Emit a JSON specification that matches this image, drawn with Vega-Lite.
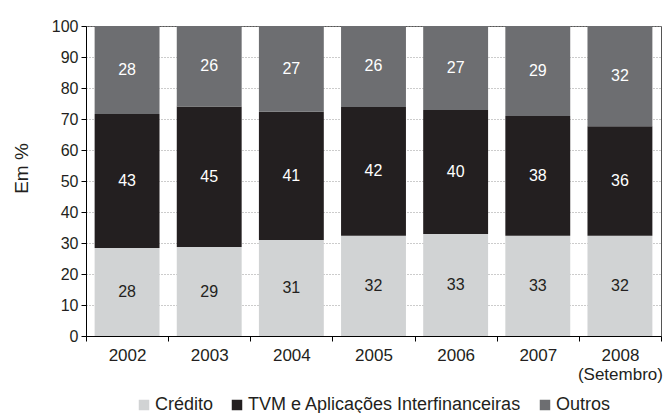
{
  "$schema": "https://vega.github.io/schema/vega-lite/v6.json",
  "width": 575,
  "height": 310,
  "autosize": {"type": "none"},
  "padding": {"left": 86, "top": 26, "right": 5, "bottom": 77},
  "background": "white",
  "config": {
    "font": "Liberation Sans",
    "view": {"stroke": "#555555", "strokeWidth": 1}
  },
  "data": {
    "values": [
      {"ano": "2002", "serie": "Crédito", "k": 1, "v": 28.4, "label": 28},
      {"ano": "2002", "serie": "TVM e Aplicações Interfinanceiras", "k": 2, "v": 43.2, "label": 43},
      {"ano": "2002", "serie": "Outros", "k": 3, "v": 28.4, "label": 28},
      {"ano": "2003", "serie": "Crédito", "k": 1, "v": 28.7, "label": 29},
      {"ano": "2003", "serie": "TVM e Aplicações Interfinanceiras", "k": 2, "v": 45.3, "label": 45},
      {"ano": "2003", "serie": "Outros", "k": 3, "v": 26.0, "label": 26},
      {"ano": "2004", "serie": "Crédito", "k": 1, "v": 31.0, "label": 31},
      {"ano": "2004", "serie": "TVM e Aplicações Interfinanceiras", "k": 2, "v": 41.3, "label": 41},
      {"ano": "2004", "serie": "Outros", "k": 3, "v": 27.7, "label": 27},
      {"ano": "2005", "serie": "Crédito", "k": 1, "v": 32.3, "label": 32},
      {"ano": "2005", "serie": "TVM e Aplicações Interfinanceiras", "k": 2, "v": 41.6, "label": 42},
      {"ano": "2005", "serie": "Outros", "k": 3, "v": 26.1, "label": 26},
      {"ano": "2006", "serie": "Crédito", "k": 1, "v": 32.9, "label": 33},
      {"ano": "2006", "serie": "TVM e Aplicações Interfinanceiras", "k": 2, "v": 40.0, "label": 40},
      {"ano": "2006", "serie": "Outros", "k": 3, "v": 27.1, "label": 27},
      {"ano": "2007", "serie": "Crédito", "k": 1, "v": 32.3, "label": 33},
      {"ano": "2007", "serie": "TVM e Aplicações Interfinanceiras", "k": 2, "v": 38.7, "label": 38},
      {"ano": "2007", "serie": "Outros", "k": 3, "v": 29.0, "label": 29},
      {"ano": "2008 (Setembro)", "serie": "Crédito", "k": 1, "v": 32.3, "label": 32},
      {"ano": "2008 (Setembro)", "serie": "TVM e Aplicações Interfinanceiras", "k": 2, "v": 35.4, "label": 36},
      {"ano": "2008 (Setembro)", "serie": "Outros", "k": 3, "v": 32.3, "label": 32}
    ]
  },
  "encoding": {
    "x": {
      "field": "ano",
      "type": "nominal",
      "sort": null,
      "scale": {"paddingInner": 0, "paddingOuter": 0},
      "axis": {
        "title": null,
        "labelAngle": 0,
        "labelExpr": "isValid(datum.value) ? split(datum.value, ' ') : ''",
        "labelFontSize": 17,
        "labelColor": "#231f20",
        "labelPadding": 6,
        "labelLineHeight": 19,
        "tickBand": "extent",
        "tickSize": 5,
        "tickColor": "#000000",
        "domainColor": "#000000",
        "grid": false
      }
    }
  },
  "layer": [
    {
      "mark": {"type": "bar", "width": {"band": 0.79}},
      "encoding": {
        "y": {
          "field": "v",
          "type": "quantitative",
          "stack": "zero",
          "scale": {"domain": [0, 100], "nice": false},
          "axis": {
            "title": "Em %",
            "titleFontSize": 19,
            "titleFontWeight": "normal",
            "titleColor": "#231f20",
            "titleX": -55,
            "titleY": 142,
            "values": [0, 10, 20, 30, 40, 50, 60, 70, 80, 90, 100],
            "labelFontSize": 16,
            "labelColor": "#231f20",
            "labelPadding": 3,
            "tickSize": 5,
            "tickColor": "#000000",
            "domainColor": "#000000",
            "gridColor": "#999999",
            "gridDash": [1, 2],
            "gridWidth": 1
          }
        },
        "color": {
          "field": "serie",
          "type": "nominal",
          "scale": {
            "domain": ["Crédito", "TVM e Aplicações Interfinanceiras", "Outros"],
            "range": ["#d1d3d4", "#231f20", "#6d6e71"]
          },
          "legend": {
            "title": null,
            "orient": "none",
            "direction": "horizontal",
            "legendX": 49,
            "legendY": 370,
            "symbolType": "square",
            "symbolSize": 110,
            "symbolStrokeWidth": 0,
            "labelFontSize": 18,
            "labelColor": "#231f20",
            "labelOffset": 2,
            "labelLimit": 0,
            "columnPadding": 14
          }
        },
        "order": {"field": "k", "type": "quantitative"}
      }
    },
    {
      "mark": {"type": "text", "fontSize": 16, "baseline": "middle"},
      "encoding": {
        "y": {
          "field": "v",
          "type": "quantitative",
          "stack": "zero",
          "bandPosition": 0.5,
          "axis": {
            "title": "Em %",
            "titleFontSize": 19,
            "titleFontWeight": "normal",
            "titleColor": "#231f20",
            "titleX": -55,
            "titleY": 142,
            "values": [0, 10, 20, 30, 40, 50, 60, 70, 80, 90, 100],
            "labelFontSize": 16,
            "labelColor": "#231f20",
            "labelPadding": 3,
            "tickSize": 5,
            "tickColor": "#000000",
            "domainColor": "#000000",
            "gridColor": "#999999",
            "gridDash": [1, 2],
            "gridWidth": 1
          }
        },
        "detail": {"field": "serie"},
        "order": {"field": "k", "type": "quantitative"},
        "text": {"field": "label", "type": "quantitative"},
        "color": {
          "condition": {"test": "datum.serie === 'Crédito'", "value": "#231f20"},
          "value": "#ffffff"
        }
      }
    }
  ]
}
